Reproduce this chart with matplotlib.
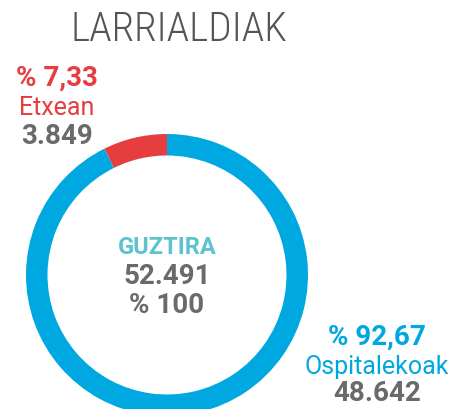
import matplotlib
matplotlib.use("Agg")
import matplotlib.pyplot as plt
from matplotlib import font_manager as fm

# ---- data ----
title = "LARRIALDIAK"
categories = ["Etxean", "Ospitalekoak"]
values = [3849, 48642]
pct_labels = ["% 7,33", "% 92,67"]
count_labels = ["3.849", "48.642"]
total_label = "GUZTIRA"
total_value = "52.491"
total_pct = "% 100"

RED = "#e63d3f"
BLUE = "#00a8e1"
GRAY = "#6a6a6a"
TEAL = "#5cc3cf"
TITLE_GRAY = "#555555"

# pick a condensed font for the title if one exists
names = {f.name for f in fm.fontManager.ttflist}
cond_family = None
for pref in ["Roboto Condensed", "Open Sans Condensed", "Noto Sans Condensed",
             "Liberation Sans Narrow", "DejaVu Sans Condensed"]:
    if pref in names:
        cond_family = pref
        break
if cond_family is None:
    for n in sorted(names):
        if "Narrow" in n or "Condensed" in n:
            cond_family = n
            break

W, H = 461, 410
fig = plt.figure(figsize=(W / 100, H / 100), dpi=100)
ax = fig.add_axes([0, 0, 1, 1])

def Y(py):
    return H - py

cx, cy, R = 167, Y(276), 141
ax.pie(values, colors=[RED, BLUE], startangle=90, counterclock=True,
       radius=R, center=(cx, cy), wedgeprops=dict(width=21.5, linewidth=0),
       frame=True)
ax.set_xlim(0, W)
ax.set_ylim(0, H)
ax.set_aspect("equal")
ax.axis("off")

FONT = ["Roboto", "DejaVu Sans"]

if cond_family:
    ax.text(178.5, Y(30), title, ha="center", va="center", fontsize=29.5,
            family=[cond_family, "DejaVu Sans"], fontweight="light", color=TITLE_GRAY)
else:
    ax.text(178.5, Y(30), title, ha="center", va="center", fontsize=24,
            family=["Roboto"], fontweight="light", color=TITLE_GRAY)

# left label (Etxean)
ax.text(57, Y(78), pct_labels[0], ha="center", va="center", fontsize=20,
        family=FONT, fontweight="bold", color=RED)
ax.text(57, Y(108), categories[0], ha="center", va="center", fontsize=18,
        family=FONT, color=RED)
ax.text(57, Y(137), count_labels[0], ha="center", va="center", fontsize=20,
        family=FONT, fontweight="bold", color=GRAY)

# center
ax.text(cx, Y(248), total_label, ha="center", va="center", fontsize=17,
        family=FONT, fontweight="bold", color=TEAL)
ax.text(cx, Y(277), total_value, ha="center", va="center", fontsize=20,
        family=FONT, fontweight="bold", color=GRAY)
ax.text(cx, Y(306), total_pct, ha="center", va="center", fontsize=20,
        family=FONT, fontweight="bold", color=GRAY)

# right label (Ospitalekoak)
ax.text(377, Y(337), pct_labels[1], ha="center", va="center", fontsize=20,
        family=FONT, fontweight="bold", color=BLUE)
ax.text(377, Y(367), categories[1], ha="center", va="center", fontsize=18,
        family=FONT, color=BLUE)
ax.text(377, Y(394), count_labels[1], ha="center", va="center", fontsize=20,
        family=FONT, fontweight="bold", color=GRAY)

fig.savefig("out.png", dpi=100, facecolor="white")
